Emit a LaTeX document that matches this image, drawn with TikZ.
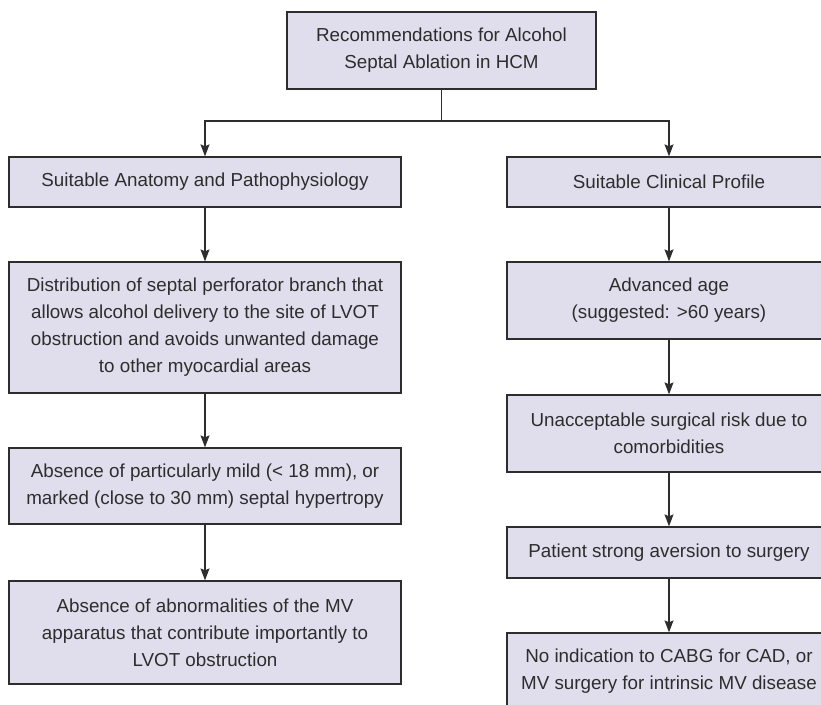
\documentclass[tikz,border=0pt]{standalone}
\usepackage{fontspec}
\setmainfont{Liberation Sans}
\usetikzlibrary{arrows.meta}
\definecolor{boxfill}{RGB}{224,222,236}
\definecolor{ink}{RGB}{45,45,45}

\begin{document}
\begin{tikzpicture}[x=1pt,y=-1pt,
  box/.style={draw=ink,fill=boxfill,line width=1.3pt,text=ink,align=center,
    inner sep=0pt,font=\fontsize{18.8}{27}\selectfont},
  lbox/.style={box,minimum width=392pt},
  rbox/.style={box,minimum width=324pt},
  arr/.style={draw=ink,line width=1.1pt,-{Stealth[length=12pt,width=9pt,inset=2pt]}}]
\useasboundingbox (0,0) rectangle (821,704);
\clip (0,0) rectangle (821,704);

\node[box,minimum width=309pt,minimum height=77pt] (top) at (441.5,50.5)
  {Recommendations for Alcohol\\Septal Ablation in HCM};

% left column
\node[lbox,minimum height=50pt] (anat) at (205,182) {Suitable Anatomy and Pathophysiology};
\node[lbox,minimum height=131pt] (distr) at (205,327.5)
  {Distribution of septal perforator branch that\\allows alcohol delivery to the site of LVOT\\obstruction and avoids unwanted damage\\to other myocardial areas};
\node[lbox,minimum height=76pt] (hyper) at (205,486)
  {Absence of particularly mild (< 18 mm), or\\marked (close to 30 mm) septal hypertropy};
\node[lbox,minimum height=103pt] (mvapp) at (205,632.5)
  {Absence of abnormalities of the MV\\apparatus that contribute importantly to\\LVOT obstruction};

% right column
\node[rbox,minimum height=50pt] (clin) at (669,182) {Suitable Clinical Profile};
\node[rbox,minimum height=77pt] (age) at (669,300.5) {Advanced age\\(suggested: >60 years)};
\node[rbox,minimum height=77pt] (risk) at (669,433.5) {Unacceptable surgical risk due to\\comorbidities};
\node[rbox,minimum height=51pt] (avers) at (669,552.5) {Patient strong aversion to surgery};
\node[rbox,minimum height=77pt] (cabg) at (669,671.5)
  {No indication to CABG for CAD, or\\MV surgery for intrinsic MV disease};

\coordinate (split) at (441.5,121);
\draw[draw=ink,line width=1.1pt] (top.south) -- (split);
\draw[arr] (split) -| (anat.north);
\draw[arr] (split) -| (clin.north);

\draw[arr] (anat) -- (distr);
\draw[arr] (distr) -- (hyper);
\draw[arr] (hyper) -- (mvapp);

\draw[arr] (clin) -- (age);
\draw[arr] (age) -- (risk);
\draw[arr] (risk) -- (avers);
\draw[arr] (avers) -- (cabg);
\end{tikzpicture}
\end{document}
